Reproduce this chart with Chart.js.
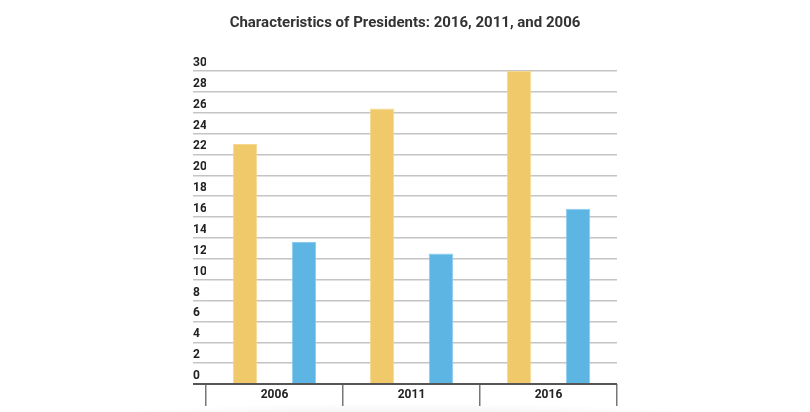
<!DOCTYPE html>
<html>
<head>
<meta charset="utf-8">
<script src="https://cdn.jsdelivr.net/npm/chart.js@4.4.0/dist/chart.umd.min.js"></script>
<style>
  html, body { margin: 0; padding: 0; background: #ffffff; }
  #wrap { position: relative; width: 810px; height: 412px; overflow: hidden; }
  #shadow { position: absolute; left: 60px; top: 404px; width: 690px; height: 20px;
    background: radial-gradient(ellipse at 50% 100%, rgba(0,0,0,0.06) 0%, rgba(0,0,0,0.03) 50%, rgba(0,0,0,0) 75%); }
  canvas { position: absolute; left: 0; top: 0; }
</style>
</head>
<body>
<div id="wrap">
  <div id="shadow"></div>
  <canvas id="c" width="810" height="412"></canvas>
</div>
<script>
const titleText = 'Characteristics of Presidents: 2016, 2011, and 2006';
const categories = ['2006', '2011', '2016'];
const seriesA = [23.0, 26.4, 30.0];
const seriesB = [13.6, 12.5, 16.8];
const yTicks = [0, 2, 4, 6, 8, 10, 12, 14, 16, 18, 20, 22, 24, 26, 28, 30];

const FONT = 'Roboto, "Noto Sans", sans-serif';

new Chart(document.getElementById('c'), {
  type: 'bar',
  data: {
    labels: categories,
    datasets: [
      { label: 'A', data: seriesA, backgroundColor: '#f0c96a', borderColor: '#f6d98f', borderWidth: 1,
        categoryPercentage: 0.86, barPercentage: 0.415 },
      { label: 'B', data: seriesB, backgroundColor: '#5db5e4', borderColor: '#8ccbef', borderWidth: 1,
        categoryPercentage: 0.86, barPercentage: 0.415 }
    ]
  },
  options: {
    responsive: false,
    animation: false,
    devicePixelRatio: 1,
    layout: { padding: { left: 193, right: 193, top: 14, bottom: 6 } },
    plugins: {
      legend: { display: false },
      tooltip: { enabled: false },
      title: {
        display: true, text: titleText, color: '#333333',
        font: { family: FONT, size: 15, weight: 'bold' },
        padding: { top: 0, bottom: 39 }
      }
    },
    scales: {
      x: {
        offset: true,
        border: { display: false },
        grid: { display: true, drawOnChartArea: false, drawTicks: true, tickLength: 22,
          color: '#777777', lineWidth: 1.5, offset: true },
        ticks: { color: '#222222', font: { family: FONT, size: 12, weight: 'bold' }, padding: -18 },
        afterFit: (s) => { s.height = 22; }
      },
      y: {
        min: 0, max: 30,
        afterBuildTicks: (s) => { s.ticks = yTicks.map(v => ({ value: v })); },
        border: { display: false },
        grid: {
          color: (ctx) => (ctx.tick && ctx.tick.value === 0) ? '#555555' : '#c4c4c4',
          lineWidth: (ctx) => (ctx.tick && ctx.tick.value === 0) ? 2 : 1.5,
          tickLength: 13, drawTicks: true
        },
        ticks: { color: '#222222', font: { family: FONT, size: 12, weight: 'bold' },
          crossAlign: 'far', labelOffset: -8, padding: 0 },
        afterFit: (s) => { s.width = 13; }
      }
    }
  }
});
</script>
</body>
</html>
